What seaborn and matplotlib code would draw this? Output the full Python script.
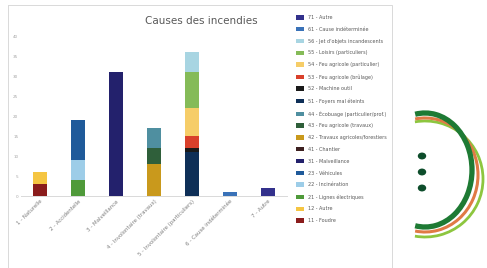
import matplotlib
matplotlib.use("Agg")
import matplotlib.pyplot as plt
from matplotlib.patches import Arc, Ellipse, Rectangle
import seaborn as sns
import pandas as pd

# ---------------- data ----------------
title = "Causes des incendies"
categories = [
    "1 - Naturelle",
    "2 - Accidentelle",
    "3 - Malveillance",
    "4 - Involontaire (travaux)",
    "5 - Involontaire (particuliers)",
    "6 - Cause indéterminée",
    "7 - Autre",
]
causes = [
    "71 - Autre",
    "61 - Cause indéterminée",
    "56 - Jet d'objets incandescents",
    "55 - Loisirs (particuliers)",
    "54 - Feu agricole (particulier)",
    "53 - Feu agricole (brûlage)",
    "52 - Machine outil",
    "51 - Foyers mal éteints",
    "44 - Écobuage (particulier/prof.)",
    "43 - Feu agricole (travaux)",
    "42 - Travaux agricoles/forestiers",
    "41 - Chantier",
    "31 - Malveillance",
    "23 - Véhicules",
    "22 - Incinération",
    "21 - Lignes électriques",
    "12 - Autre",
    "11 - Foudre",
]
cause_colors = [
    "#33318c", "#3a72b8", "#a8d5e2", "#85bb58", "#f6cd68", "#d9402b",
    "#1a1a1a", "#0e2f57", "#4f8fa0", "#2f5f3a", "#c9991c", "#3d2020",
    "#23216c", "#1f5a9a", "#9dcde8", "#4f9a3a", "#f5c542", "#8a1c1c",
]
seg_category = [
    "1 - Naturelle", "1 - Naturelle",
    "2 - Accidentelle", "2 - Accidentelle", "2 - Accidentelle",
    "3 - Malveillance",
    "4 - Involontaire (travaux)", "4 - Involontaire (travaux)",
    "4 - Involontaire (travaux)", "4 - Involontaire (travaux)",
    "5 - Involontaire (particuliers)", "5 - Involontaire (particuliers)",
    "5 - Involontaire (particuliers)", "5 - Involontaire (particuliers)",
    "5 - Involontaire (particuliers)", "5 - Involontaire (particuliers)",
    "6 - Cause indéterminée",
    "7 - Autre",
]
seg_cause = [
    "11 - Foudre", "12 - Autre",
    "21 - Lignes électriques", "22 - Incinération", "23 - Véhicules",
    "31 - Malveillance",
    "41 - Chantier", "42 - Travaux agricoles/forestiers",
    "43 - Feu agricole (travaux)", "44 - Écobuage (particulier/prof.)",
    "51 - Foyers mal éteints", "52 - Machine outil",
    "53 - Feu agricole (brûlage)", "54 - Feu agricole (particulier)",
    "55 - Loisirs (particuliers)", "56 - Jet d'objets incandescents",
    "61 - Cause indéterminée",
    "71 - Autre",
]
seg_value = [3, 3, 4, 5, 10, 31, 0, 8, 4, 5, 11, 1, 3, 7, 9, 5, 1, 2]
y_ticks = [0, 5, 10, 15, 20, 25, 30, 35, 40]

# ---------------- figure ----------------
sns.set_theme(style="white")
plt.rcParams["font.family"] = ["DejaVu Sans"]

W, H = 487, 268
fig = plt.figure(figsize=(W / 100, H / 100), dpi=100)
fig.patch.set_facecolor("white")

# background / decoration layer (pixel coordinates)
bg = fig.add_axes([0, 0, 1, 1])
bg.set_xlim(0, W)
bg.set_ylim(H, 0)
bg.axis("off")
bg.add_patch(Rectangle((8, 5), 384, 270, fill=False, edgecolor="#d9d9d9", lw=0.7))
bg.add_patch(Arc((425, 179), 116, 116, theta1=-100, theta2=100, color="#8dc63f", lw=2.0))
bg.add_patch(Arc((425, 175), 106, 114, theta1=-100, theta2=100, color="#e07a45", lw=2.2))
bg.add_patch(Arc((425, 170), 94, 114, theta1=-100, theta2=100, color="#1e7a34", lw=3.8))
for yy in (156, 172, 188):
    bg.add_patch(Ellipse((422, yy), 7, 5.5, color="#0d4d2b"))

ax = fig.add_axes([21 / W, 1 - 196 / H, 266 / W, 160 / H])
ax.set_facecolor("none")

df = pd.DataFrame({
    "categorie": pd.Categorical(seg_category, categories=categories, ordered=True),
    "cause": seg_cause,
    "valeur": seg_value,
})
sns.histplot(
    data=df, x="categorie", hue="cause", weights="valeur",
    multiple="stack", discrete=True, shrink=0.35,
    hue_order=causes, palette=dict(zip(causes, cause_colors)),
    alpha=1, linewidth=0, ax=ax, legend=True,
)

ax.set_xlim(-0.5, 6.5)
ax.set_ylim(0, 40)
ax.set_yticks(y_ticks)
ax.set_yticklabels([str(v) for v in y_ticks], fontsize=3, color="#a6a6a6")
ax.set_xticks(range(len(categories)))
ax.set_xticklabels(categories, rotation=45, ha="right", rotation_mode="anchor",
                   fontsize=3.9, color="#7f7f7f")
ax.tick_params(axis="both", length=0, pad=2)
ax.set_xlabel("")
ax.set_ylabel("")
for s in ("top", "right", "left"):
    ax.spines[s].set_visible(False)
ax.spines["bottom"].set_color("#d9d9d9")
ax.spines["bottom"].set_linewidth(0.7)

sns.move_legend(
    ax, "upper left", bbox_to_anchor=(296 / W, 1 - 15 / H),
    bbox_transform=fig.transFigure, frameon=False, title=None,
    fontsize=3.5, labelspacing=1.4, handlelength=1.7, handleheight=1.0,
    handletextpad=0.7, borderaxespad=0, borderpad=0,
)
for t in ax.get_legend().get_texts():
    t.set_color("#595959")

fig.text(201 / W, 1 - 21 / H, title, ha="center", va="center",
         fontsize=7.5, color="#595959")

fig.savefig("out.png", dpi=100, facecolor="white")
